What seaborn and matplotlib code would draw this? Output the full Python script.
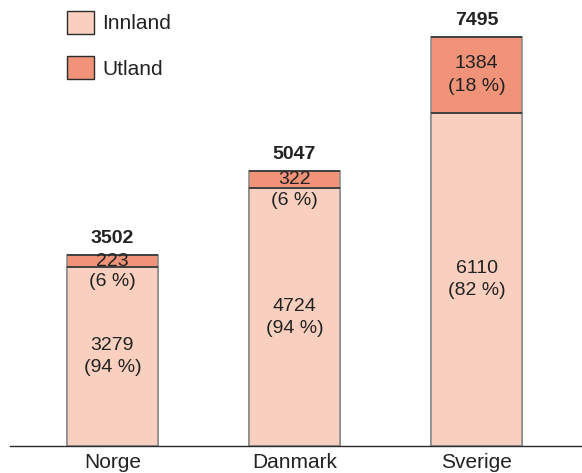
import matplotlib
matplotlib.use("Agg")
import matplotlib.pyplot as plt
from matplotlib.patches import Patch
import seaborn as sns
import pandas as pd

# Data
countries = ["Norge", "Danmark", "Sverige"]
innland = [3279, 4724, 6110]
utland = [223, 322, 1384]
innland_pct = [94, 94, 82]
utland_pct = [6, 6, 18]
totals = [3502, 5047, 7495]  # as printed (rounded) in the source

df = pd.DataFrame({"land": countries, "innland": innland,
                   "stack": [i + u for i, u in zip(innland, utland)]})

c_inn = "#f9d0bf"
c_ut = "#f09378"
side = "#8c8c8c"
dark = "#2b2b2b"
txt = "#222222"

sns.set_style("white")
plt.rcParams["font.family"] = ["Liberation Sans", "DejaVu Sans"]

fig = plt.figure(figsize=(5.82, 4.73), dpi=100)
ax = fig.add_axes([10 / 582, 27 / 473, 1 - 10 / 582, 446 / 473])

# full stack in Utland colour, Innland drawn over it
sns.barplot(data=df, x="land", y="stack", color=c_ut, width=0.5,
            edgecolor=side, linewidth=1.2, saturation=1, ax=ax)
sns.barplot(data=df, x="land", y="innland", color=c_inn, width=0.5,
            edgecolor=side, linewidth=1.2, saturation=1, ax=ax)

# darker horizontal edges on top of each segment
for p in ax.patches:
    x0 = p.get_x()
    x1 = x0 + p.get_width()
    top = p.get_y() + p.get_height()
    ax.plot([x0, x1], [top, top], color=dark, lw=1.1, solid_capstyle="butt", zorder=5)

ax.set_xlim(-0.562, 2.579)
ax.set_ylim(0, 446 / 0.05453)
ax.set_xlabel("")
ax.set_ylabel("")
ax.set_yticks([])
ax.tick_params(axis="x", length=0, labelsize=15, pad=5, colors=txt)
for s in ["top", "right", "left"]:
    ax.spines[s].set_visible(False)
ax.spines["bottom"].set_color(dark)
ax.spines["bottom"].set_linewidth(1)

fs = 14
half = 8  # half the line pitch, in points
for x, (i, u, ip, up, t) in enumerate(zip(innland, utland, innland_pct, utland_pct, totals)):
    # Innland label, centred in its segment
    ax.annotate(f"{i}", (x, i / 2), xytext=(0, half), textcoords="offset points",
                ha="center", va="center", fontsize=fs, color=txt)
    ax.annotate(f"({ip} %)", (x, i / 2), xytext=(0, -half), textcoords="offset points",
                ha="center", va="center", fontsize=fs, color=txt)
    # Utland label
    mid = i + u / 2
    if u > 800:
        offs = (half, -half)
    else:
        offs = (0, -15)
    ax.annotate(f"{u}", (x, mid), xytext=(0, offs[0]), textcoords="offset points",
                ha="center", va="center", fontsize=fs, color=txt, zorder=6)
    ax.annotate(f"({up} %)", (x, mid), xytext=(0, offs[1]), textcoords="offset points",
                ha="center", va="center", fontsize=fs, color=txt, zorder=6)
    # total on top
    ax.annotate(f"{t}", (x, i + u), xytext=(0, 12), textcoords="offset points",
                ha="center", va="center", fontsize=fs, fontweight="bold", color=txt)

handles = [Patch(facecolor=c_inn, edgecolor=dark, linewidth=1, label="Innland"),
           Patch(facecolor=c_ut, edgecolor=dark, linewidth=1, label="Utland")]
leg = fig.legend(handles=handles, loc="upper left", bbox_to_anchor=(67 / 582, 1 - 11 / 473),
                 frameon=False, fontsize=15, handlelength=1.3, handleheight=1.3,
                 labelspacing=1.08, handletextpad=0.4, borderpad=0, borderaxespad=0)
for t in leg.get_texts():
    t.set_color(txt)

fig.savefig("out.png", dpi=100)
